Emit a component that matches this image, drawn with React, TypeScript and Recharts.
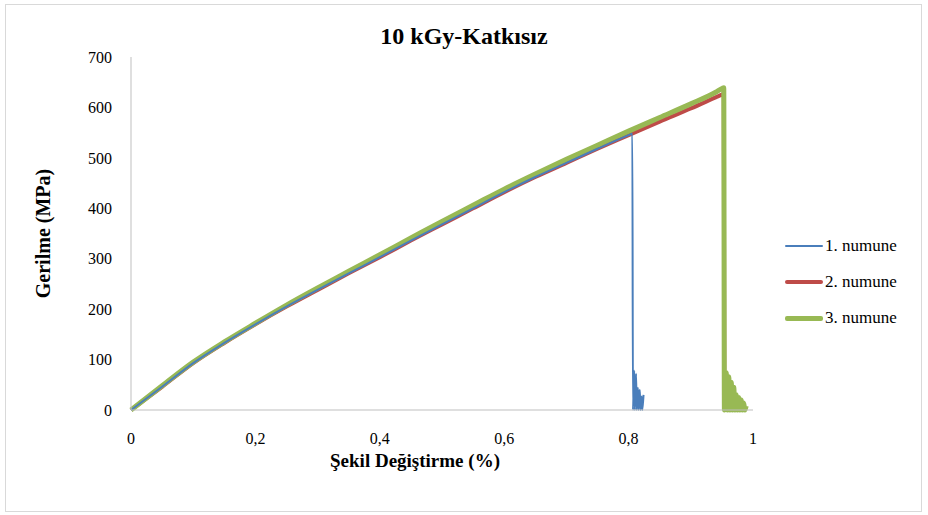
import React from 'react';
import { LineChart, Line, XAxis, YAxis, Label } from 'recharts';

const strain1 = [0, 0.05, 0.1, 0.15, 0.2, 0.25, 0.3, 0.35, 0.4, 0.45, 0.5, 0.55, 0.6, 0.65, 0.7, 0.75, 0.8, 0.804, 0.806, 0.807, 0.809, 0.81, 0.812, 0.813, 0.815, 0.816, 0.818, 0.819, 0.821, 0.822, 0.824];
const stress1 = [0, 46, 93, 133, 170, 205, 238, 271, 303, 336, 368, 400, 432, 462, 490, 518, 545, 547, 548, 0, 78, 0, 72, 0, 44, 0, 40, 0, 27, 0, 30];

const strain2 = [0, 0.05, 0.1, 0.15, 0.2, 0.25, 0.3, 0.35, 0.4, 0.45, 0.5, 0.55, 0.6, 0.65, 0.7, 0.75, 0.8, 0.85, 0.9, 0.94, 0.951, 0.953, 0.954];
const stress2 = [0, 46, 93, 133, 170, 205, 238, 271, 303, 336, 368, 400, 432, 462, 490, 518, 545, 572, 598, 620, 626, 627, 0];

const strain3 = [0, 0.05, 0.1, 0.15, 0.2, 0.25, 0.3, 0.35, 0.4, 0.45, 0.5, 0.55, 0.6, 0.65, 0.7, 0.75, 0.8, 0.85, 0.9, 0.94, 0.951, 0.953, 0.954, 0.957, 0.959, 0.961, 0.963, 0.965, 0.967, 0.969, 0.971, 0.973, 0.975, 0.977, 0.979, 0.981, 0.983, 0.985, 0.987, 0.989];
const stress3 = [0, 48, 95, 135, 172, 208, 242, 275, 308, 341, 374, 406, 438, 468, 497, 525, 553, 580, 607, 630, 638, 639, 0, 74, 0, 66, 0, 55, 0, 45, 0, 30, 0, 25, 0, 20, 0, 14, 0, 8];

const xTicks = [0, 0.2, 0.4, 0.6, 0.8, 1];
const yTicks = [0, 100, 200, 300, 400, 500, 600, 700];

const seriesNames = ['1. numune', '2. numune', '3. numune'];
const seriesColors = ['#4a7ebb', '#be4b48', '#98b954'];
const seriesWidths = [2, 4, 5];

const toPoints = (xs: number[], ys: number[]) => xs.map((x, i) => ({ x, y: ys[i] }));

const data1 = toPoints(strain1, stress1);
const data2 = toPoints(strain2, stress2);
const data3 = toPoints(strain3, stress3);

const font = "'Liberation Serif', 'Times New Roman', serif";

export default function App() {
  return (
    <div style={{ position: 'absolute', left: 0, top: 0, width: 928, height: 515, background: '#fff', fontFamily: font }}>
      <div style={{ position: 'absolute', left: 5, top: 4, width: 917, height: 508, border: '1px solid #d9d9d9', boxSizing: 'border-box' }} />
      <div style={{ position: 'absolute', left: 0, width: 928, top: 23, textAlign: 'center', fontSize: 24, fontWeight: 'bold', color: '#000', lineHeight: '26px' }}>
        10 kGy-Katkısız
      </div>
      <LineChart width={928} height={515} margin={{ top: 57, right: 175, bottom: 75, left: 71 }} style={{ position: 'absolute', left: 0, top: 0, fontFamily: font }}>
        <XAxis
          type="number"
          dataKey="x"
          domain={[0, 1]}
          ticks={xTicks}
          tickFormatter={(v: number) => String(v).replace('.', ',')}
          stroke="#bfbfbf"
          tickLine={false}
          tick={{ fill: '#000', fontSize: 16, fontFamily: font }}
          tickMargin={17}
        >
          <Label value="Şekil Değiştirme (%)" position="bottom" offset={14} dx={-27} style={{ fontWeight: 'bold', fontSize: 19, fill: '#000', fontFamily: font }} />
        </XAxis>
        <YAxis
          type="number"
          dataKey="y"
          domain={[0, 700]}
          ticks={yTicks}
          stroke="#bfbfbf"
          tickLine={false}
          tick={{ fill: '#000', fontSize: 16, fontFamily: font }}
          tickMargin={13}
        >
          <Label value="Gerilme (MPa)" angle={-90} position="left" offset={28} style={{ fontWeight: 'bold', fontSize: 20, fill: '#000', fontFamily: font, textAnchor: 'middle' }} />
        </YAxis>
        <Line type="monotoneX" data={data2} dataKey="y" name={seriesNames[1]} stroke={seriesColors[1]} strokeWidth={seriesWidths[1]} dot={false} isAnimationActive={false} strokeLinejoin="round" />
        <Line type="monotoneX" data={data3} dataKey="y" name={seriesNames[2]} stroke={seriesColors[2]} strokeWidth={seriesWidths[2]} dot={false} isAnimationActive={false} strokeLinejoin="round" />
        <Line type="monotoneX" data={data1} dataKey="y" name={seriesNames[0]} stroke={seriesColors[0]} strokeWidth={seriesWidths[0]} dot={false} isAnimationActive={false} />
      </LineChart>
      <div style={{ position: 'absolute', left: 785, top: 228 }}>
        {seriesNames.map((n, i) => (
          <div key={n} style={{ display: 'flex', alignItems: 'center', height: 36, fontSize: 17, color: '#000' }}>
            <div style={{ width: 38, height: seriesWidths[i], background: seriesColors[i], borderRadius: 2, marginRight: 2 }} />
            <span>{n}</span>
          </div>
        ))}
      </div>
    </div>
  );
}
